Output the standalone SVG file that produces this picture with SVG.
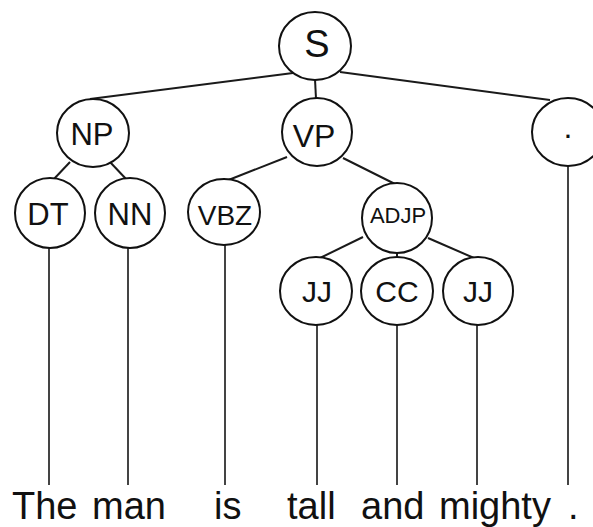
<svg xmlns="http://www.w3.org/2000/svg" width="593" height="527" viewBox="0 0 593 527">
  <style>
    .node ellipse { fill: #ffffff; stroke: #111111; stroke-width: 2; }
    .node text { font-family: "Liberation Sans", Arial, sans-serif; fill: #111111; text-anchor: middle; }
    .edge { stroke: #1a1a1a; stroke-width: 2; fill: none; }
    .leaf { stroke: #444444; stroke-width: 2; fill: none; }
    .word { font-family: "Liberation Sans", Arial, sans-serif; font-size: 38px; fill: #111111; }
  </style>
  <rect width="593" height="527" fill="#ffffff"/>

  <g id="connectors">
    <!-- tree edges -->
    <line class="edge" x1="293" y1="73" x2="90" y2="99"/>
    <line class="edge" x1="315" y1="79" x2="316" y2="99"/>
    <line class="edge" x1="340" y1="72" x2="550" y2="100"/>
    <line class="edge" x1="70" y1="162" x2="53" y2="180"/>
    <line class="edge" x1="110" y1="162" x2="127" y2="180"/>
    <line class="edge" x1="287" y1="157" x2="226" y2="181"/>
    <line class="edge" x1="343" y1="158" x2="395" y2="184"/>
    <line class="edge" x1="363" y1="237" x2="320" y2="258"/>
    <line class="edge" x1="397" y1="252" x2="397" y2="258"/>
    <line class="edge" x1="428" y1="238" x2="474" y2="258"/>
    <!-- lines down to the words -->
    <line class="leaf" x1="49" y1="247" x2="49" y2="485"/>
    <line class="leaf" x1="128" y1="247" x2="128" y2="485"/>
    <line class="leaf" x1="225" y1="245" x2="225" y2="485"/>
    <line class="leaf" x1="317" y1="325" x2="317" y2="485"/>
    <line class="leaf" x1="397" y1="325" x2="397" y2="485"/>
    <line class="leaf" x1="477" y1="325" x2="477" y2="485"/>
    <line class="leaf" x1="568" y1="166" x2="568" y2="485"/>
  </g>

  <g id="node-S" class="node">
    <ellipse cx="315" cy="46" rx="36" ry="34"/>
    <text x="317" y="57" font-size="38">S</text>
  </g>
  <g id="node-NP" class="node">
    <ellipse cx="93" cy="133" rx="36" ry="34"/>
    <text x="92" y="145" font-size="31">NP</text>
  </g>
  <g id="node-VP" class="node">
    <ellipse cx="317" cy="132" rx="35" ry="34"/>
    <text x="314" y="147" font-size="32">VP</text>
  </g>
  <g id="node-punct" class="node">
    <ellipse cx="568" cy="132" rx="36" ry="34"/>
    <text x="568" y="138" font-size="32">.</text>
  </g>
  <g id="node-DT" class="node">
    <ellipse cx="50" cy="213" rx="35" ry="35"/>
    <text x="48" y="225" font-size="31">DT</text>
  </g>
  <g id="node-NN" class="node">
    <ellipse cx="130" cy="213" rx="35" ry="35"/>
    <text x="130" y="225" font-size="31">NN</text>
  </g>
  <g id="node-VBZ" class="node">
    <ellipse cx="224" cy="212" rx="36" ry="33"/>
    <text x="225" y="225" font-size="28">VBZ</text>
  </g>
  <g id="node-ADJP" class="node">
    <ellipse cx="397" cy="218" rx="35" ry="35"/>
    <text x="398" y="223" font-size="22">ADJP</text>
  </g>
  <g id="node-JJ1" class="node">
    <ellipse cx="316" cy="291" rx="36" ry="34"/>
    <text x="317" y="302" font-size="30">JJ</text>
  </g>
  <g id="node-CC" class="node">
    <ellipse cx="397" cy="291" rx="36" ry="34"/>
    <text x="397" y="302" font-size="30">CC</text>
  </g>
  <g id="node-JJ2" class="node">
    <ellipse cx="478" cy="291" rx="35" ry="34"/>
    <text x="478" y="302" font-size="30">JJ</text>
  </g>

  <g id="words">
    <text class="word" x="12" y="519">The</text>
    <text class="word" x="92" y="519">man</text>
    <text class="word" x="214" y="519">is</text>
    <text class="word" x="287" y="519">tall</text>
    <text class="word" x="361" y="519">and</text>
    <text class="word" x="439" y="519">mighty</text>
    <text class="word" x="568" y="519">.</text>
  </g>
</svg>
